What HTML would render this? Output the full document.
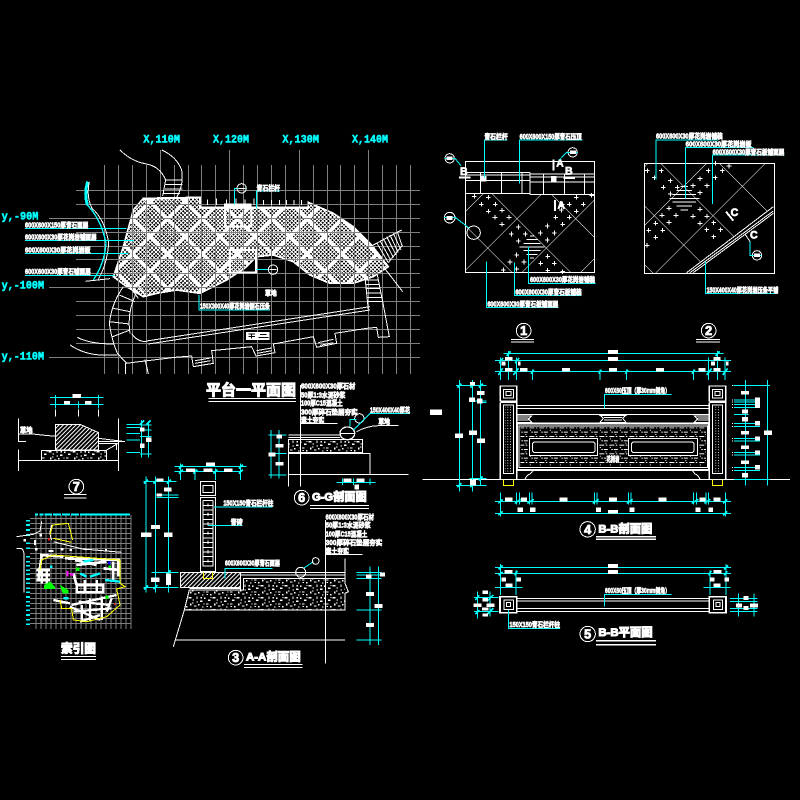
<!DOCTYPE html>
<html><head><meta charset="utf-8"><title>平台一平面图</title>
<style>
html,body{margin:0;padding:0;background:#000;width:800px;height:800px;overflow:hidden}
svg{display:block;shape-rendering:crispEdges}
.w{fill:none;stroke:#fff;stroke-width:3}
.c{fill:none;stroke:#0ff;stroke-width:3}
.g{fill:none;stroke:#808080;stroke-width:3}
.y{fill:none;stroke:#ff0;stroke-width:3}
text{font-family:"Liberation Sans","Noto Sans CJK SC",sans-serif;font-weight:700;fill:#fff;stroke:#fff;stroke-width:2}
.l{font-size:21px}
.a{font-family:"Liberation Mono",monospace;font-size:32px;fill:#0ff;stroke:#0ff;stroke-width:1.5}
.tt{font-size:45px;stroke-width:3}
.n{font-size:38px;stroke-width:2.5;text-anchor:middle}
.h{font-size:34px;stroke-width:3}
</style></head><body>
<svg width="800" height="800" viewBox="0 0 800 800" xmlns="http://www.w3.org/2000/svg">
<defs>
<pattern id="d1" patternUnits="userSpaceOnUse" width="124.5" height="124.5" patternTransform="translate(173 353) rotate(45)">
<path d="M0 0V124.5M0 0H124.5" stroke="#fff" stroke-width="3" fill="none"/>
</pattern>
<pattern id="d2" patternUnits="userSpaceOnUse" width="124.5" height="124.5" patternTransform="translate(761 344) rotate(45)">
<path d="M0 0V124.5M0 0H124.5" stroke="#fff" stroke-width="3" fill="none"/>
</pattern>
<pattern id="ha" patternUnits="userSpaceOnUse" width="9" height="9" patternTransform="rotate(-45)">
<path d="M0 1.5H9" stroke="#fff" stroke-width="3"/>
</pattern>
<pattern id="gr" patternUnits="userSpaceOnUse" width="72" height="36">
<g fill="#fff"><rect x="2" y="3" width="8" height="4"/><rect x="14" y="10" width="4" height="4"/><rect x="25" y="2" width="4" height="7"/><rect x="36" y="14" width="8" height="4"/><rect x="48" y="5" width="4" height="4"/><rect x="60" y="11" width="8" height="4"/><rect x="6" y="22" width="4" height="7"/><rect x="18" y="28" width="8" height="4"/><rect x="30" y="24" width="4" height="4"/><rect x="42" y="31" width="4" height="4"/><rect x="54" y="22" width="8" height="4"/><rect x="66" y="30" width="4" height="4"/><rect x="68" y="3" width="3" height="3"/><rect x="38" y="3" width="4" height="4"/><rect x="12" y="19" width="4" height="4"/><rect x="26" y="16" width="4" height="4"/><rect x="46" y="22" width="4" height="3"/><rect x="56" y="30" width="4" height="3"/></g>
</pattern>
<pattern id="pn" patternUnits="userSpaceOnUse" width="30" height="26" x="268" y="262">
<g fill="#fff"><rect x="0" y="0" width="15" height="3"/><rect x="20" y="0" width="4" height="3"/><rect x="6" y="13" width="4" height="3"/><rect x="14" y="13" width="11" height="3"/><rect x="2" y="7" width="3" height="3"/><rect x="18" y="20" width="3" height="3"/></g>
</pattern>
<pattern id="dt" patternUnits="userSpaceOnUse" width="8" height="8">
<rect width="3" height="3" fill="#fff"/>
</pattern>
<clipPath id="cd1"><rect x="106" y="192" width="388" height="236"/></clipPath>
<clipPath id="cpl"><path d="M430 235L600 232V265H925V247L1000 280L1060 320L1115 375L1165 440L1120 470L1060 490L990 490L930 465L880 425L820 405L770 410L740 440L680 480L600 520L530 510L470 520L430 530L380 500L340 470L370 380L400 270Z"/></clipPath>
</defs>
<rect width="800" height="800" fill="#000"/>

<!-- PLAN -->
<g transform="translate(0 120) scale(.33333)">
<g clip-path="url(#cpl)">
<g transform="translate(503 297) rotate(45)" fill="none" stroke="#fff">
<path d="M-1036 0H1036" stroke-width="2072" stroke-dasharray="3 5.222" stroke-dashoffset="-2.5"/>
<path d="M0 -1036V1036" stroke-width="2072" stroke-dasharray="3 5.222" stroke-dashoffset="-2.5"/>
<path d="M-1036 0H1036" stroke-width="2072" stroke-dasharray="12 62" stroke-dashoffset="6"/>
<path d="M0 -1036V1036" stroke-width="2072" stroke-dasharray="12 62" stroke-dashoffset="6"/>
</g>
</g>
<path d="M430 235L600 232V265H925V247L1000 280L1060 320L1115 375L1165 440L1120 470L1060 490L990 490L930 465L880 425L820 405L770 410L740 440L680 480L600 520L530 510L470 520L430 530L380 500L340 470L370 380L400 270Z" fill="none" stroke="#fff" stroke-width="5"/>
<path class="g" d="M313 135V762M355 135V762M397 135V762M439 135V762M481 90V762M523 135V762M565 135V762M605 135V762M646 135V762M688 90V762M730 135V762M772 135V762M814 135V762M856 135V762M898 90V762M940 135V762M982 135V762M1022 135V762M1063 135V762M1105 90V762M1147 135V762M1189 135V762M1231 135V762"/>
<path class="g" d="M228 211H1260M228 253H1260M147 295H1260M228 337H1260M228 379H1260M228 418H1260M228 460H1260M147 502H1260M228 544H1260M228 586H1260M228 628H1260M228 670H1260M147 712H1260"/>
<text class="a" x="430" y="68" textLength="110" lengthAdjust="spacingAndGlyphs">X,110M</text>
<text class="a" x="639" y="68" textLength="108" lengthAdjust="spacingAndGlyphs">X,120M</text>
<text class="a" x="847" y="68" textLength="110" lengthAdjust="spacingAndGlyphs">X,130M</text>
<text class="a" x="1056" y="68" textLength="108" lengthAdjust="spacingAndGlyphs">X,140M</text>
<text class="a" x="5" y="298" textLength="110" lengthAdjust="spacingAndGlyphs">y,-90M</text>
<text class="a" x="5" y="505" textLength="127" lengthAdjust="spacingAndGlyphs">y,-100M</text>
<text class="a" x="5" y="718" textLength="127" lengthAdjust="spacingAndGlyphs">y,-110M</text>

<path class="w" style="stroke-width:6" d="M600 262H925M430 237L600 232"/>
<rect x="672" y="250" width="83" height="14" fill="#fff"/>
<path class="w" d="M622 238V255M650 236V255M680 238V250M708 236V250M735 238V250M762 236V255M790 240V255M815 240V255M838 240V255M860 240V255M882 240V255M905 240V255"/>
<path class="w" style="stroke-width:6" d="M675 265V320H755V265M690 390H768V457H690Z"/>
<path d="M263 185Q252 220 262 255" fill="none" stroke="#0ff" stroke-width="9"/>
<path d="M262 255Q305 300 318 370Q314 430 280 480" fill="none" stroke="#0ff" stroke-width="4"/>
<path class="w" d="M268 185Q258 230 276 265Q316 300 326 370Q322 430 295 478M256 484L330 476"/>
<path class="w" d="M360 90Q395 125 440 132Q480 140 497 180L488 228M485 90Q530 110 545 150Q552 195 530 232M497 180H547M497 193H547M495 207H547M490 220H540M487 232H532"/>
<path class="w" d="M1120 375L1205 330M1165 428L1208 375M1150 440L1208 515M1130 368L1165 428M1140 362L1172 420M1150 356L1180 412M1160 350L1188 405M1170 345L1195 398M1180 340L1203 390M1192 335L1207 380"/>
<path class="w" d="M1095 470L1105 570M1132 465L1148 545M1097 480H1135M1097 493H1138M1098 506H1140M1100 519H1142M1102 532H1145M1103 545H1148"/>
<path class="w" d="M1148 545L1168 650L1135 652L1130 622L1100 625L1005 640L1010 670L950 682L940 650L820 672L825 698L768 708L755 680L635 692L640 730L580 740L575 708L525 712L377 730L377 762M435 718L445 762"/>
<path class="w" d="M955 668L1000 658M960 676L1000 668M770 692L815 684M772 700L815 692M585 722L632 714M585 730L632 722"/>
<path class="w" d="M440 663L1110 560M445 672L1110 570M395 640Q410 665 440 665"/>
<path class="w" d="M370 500Q335 550 328 610Q335 660 352 700L380 730M408 520Q380 580 390 640M358 525L405 545M340 565L390 575M328 605L388 612M338 650L390 630M385 495L415 535M410 490L440 530"/>
<path class="w" d="M210 675Q250 702 300 705H352M232 652Q270 672 340 672"/>
<path class="c" d="M75 325H380M75 361H402M75 400H385M75 466H345"/>
<text class="l" x="75" y="323" textLength="190" lengthAdjust="spacingAndGlyphs">600X600X150厚青石面层</text>
<text class="l" x="75" y="358" textLength="215" lengthAdjust="spacingAndGlyphs">600X600X30厚花岗岩铺面层</text>
<text class="l" x="75" y="397" textLength="197" lengthAdjust="spacingAndGlyphs">600X600X30厚花岗岩板</text>
<text class="l" x="75" y="462" textLength="197" lengthAdjust="spacingAndGlyphs">600X600X30厚青石铺面层</text>
<path class="c" d="M703 253V205H738M769 265V213H840M770 449H805M597 525V570H810"/>
<circle class="w" cx="725" cy="205" r="14"/><circle class="w" cx="819" cy="449" r="14"/>
<path class="w" d="M715 205H735M809 449H830"/>
<text class="l" x="770" y="211" textLength="70" lengthAdjust="spacingAndGlyphs">青石栏杆</text>
<text class="l" x="795" y="527" textLength="35" lengthAdjust="spacingAndGlyphs">草地</text>
<text class="l" x="600" y="566" textLength="210" lengthAdjust="spacingAndGlyphs">150X300X40厚花岗岩侧石压条</text>
<rect x="738" y="636" width="70" height="24" fill="#fff"/>
<path d="M745 642H765M745 650H765M755 642V656M780 644H800M775 652H805" stroke="#000" stroke-width="3" fill="none"/>
<text class="tt" x="618" y="825" textLength="270" lengthAdjust="spacingAndGlyphs">平台一平面图</text>
<path class="w" d="M625 835H888M625 845H888"/>
</g>

<!-- DETAILS 1 2 -->
<g transform="translate(430 130) scale(.33333)">
<rect class="w" x="106" y="94" width="388" height="334"/>
<rect class="w" x="643" y="100" width="390" height="330"/>
<rect x="106" y="192" width="388" height="236" fill="url(#d1)" clip-path="url(#cd1)"/>
<path d="M643 100H1033V228L770 430H643Z" fill="url(#d2)"/>
<path class="w" d="M106 128H300M106 135H300M106 152H300M106 190H300M300 132H494M300 141H494M300 156H494M300 194H494M300 128V194M152 128V190M214 128V190M276 128V190M340 132V194M403 132V194M463 132V194"/>
<rect x="153" y="138" width="17" height="17" fill="#fff"/><rect x="363" y="138" width="17" height="17" fill="#fff"/>
<path class="w" style="stroke-width:6" d="M87 143H122M400 144H435M371 88V122M375 210V243M888 245L910 272"/>
<text x="90" y="135" style="font-size:32px">B</text><text x="405" y="133" style="font-size:32px">B</text>
<text x="379" y="110" style="font-size:30px">A</text><text x="383" y="236" style="font-size:30px">A</text>
<text x="902" y="258" style="font-size:32px">C</text><text x="960" y="325" style="font-size:32px">C</text>
<path class="w" d="M945 312L960 335"/>
<path class="w" d="M770 428L1030 230M780 428L1030 243M790 428L1030 250"/>
<path class="w" d="M300 318H312M290 329H322M280 340H332M268 351H344M280 362H332M290 373H322M300 384H312M752 170H774M740 182H786M728 194H798M718 205H808M728 216H798M740 228H786M752 240H774"/>
<path class="w" d="M133 199m-7 0h14m-7-7v14M175 202m-7 0h14m-7-7v14M154 223m-7 0h14m-7-7v14M196 223m-7 0h14m-7-7v14M175 244m-7 0h14m-7-7v14M216 241m-7 0h14m-7-7v14M195 262m-7 0h14m-7-7v14M237 262m-7 0h14m-7-7v14M216 283m-7 0h14m-7-7v14M265 291m-7 0h14m-7-7v14M244 312m-7 0h14m-7-7v14M286 312m-7 0h14m-7-7v14M265 333m-7 0h14m-7-7v14M418 223m-7 0h14m-7-7v14M460 223m-7 0h14m-7-7v14M439 202m-7 0h14m-7-7v14M485 196m-7 0h14m-7-7v14M439 244m-7 0h14m-7-7v14M397 223m-7 0h14m-7-7v14M418 262m-7 0h14m-7-7v14M377 262m-7 0h14m-7-7v14M398 283m-7 0h14m-7-7v14M352 288m-7 0h14m-7-7v14M373 309m-7 0h14m-7-7v14M331 309m-7 0h14m-7-7v14M352 330m-7 0h14m-7-7v14M260 375m-7 0h14m-7-7v14M240 396m-7 0h14m-7-7v14M282 396m-7 0h14m-7-7v14M260 417m-7 0h14m-7-7v14M220 420m-7 0h14m-7-7v14M353 379m-7 0h14m-7-7v14M373 400m-7 0h14m-7-7v14M332 400m-7 0h14m-7-7v14M353 421m-7 0h14m-7-7v14M398 425m-7 0h14m-7-7v14M394 240m-7 0h14m-7-7v14"/>
<path class="w" d="M652 122m-7 0h14m-7-7v14M694 122m-7 0h14m-7-7v14M673 143m-7 0h14m-7-7v14M721 152m-7 0h14m-7-7v14M700 172m-7 0h14m-7-7v14M742 172m-7 0h14m-7-7v14M721 192m-7 0h14m-7-7v14M835 122m-7 0h14m-7-7v14M877 122m-7 0h14m-7-7v14M856 143m-7 0h14m-7-7v14M897 108m-7 0h14m-7-7v14M856 100m-7 0h14m-7-7v14M810 146m-7 0h14m-7-7v14M789 167m-7 0h14m-7-7v14M831 167m-7 0h14m-7-7v14M810 188m-7 0h14m-7-7v14M717 235m-7 0h14m-7-7v14M696 256m-7 0h14m-7-7v14M738 256m-7 0h14m-7-7v14M717 277m-7 0h14m-7-7v14M677 280m-7 0h14m-7-7v14M656 301m-7 0h14m-7-7v14M698 301m-7 0h14m-7-7v14M677 322m-7 0h14m-7-7v14M651 346m-7 0h14m-7-7v14M810 238m-7 0h14m-7-7v14M789 259m-7 0h14m-7-7v14M831 259m-7 0h14m-7-7v14M810 280m-7 0h14m-7-7v14M851 278m-7 0h14m-7-7v14M830 299m-7 0h14m-7-7v14M872 299m-7 0h14m-7-7v14M851 320m-7 0h14m-7-7v14"/>
<circle class="w" cx="59" cy="85" r="14"/><circle class="w" cx="428" cy="67" r="14"/><circle class="w" cx="59" cy="263" r="16"/><circle class="w" cx="131" cy="308" r="20"/><circle class="w" cx="981" cy="376" r="14"/>
<path class="c" d="M43 85H75L93 107M442 67H410L388 90M42 263H77L118 295M960 335V377H995M163 143V30H233M269 160V30H457M295 350V460H497M253 397V496H455M169 395V532H385M678 148V30H865M767 205V52H970M848 222V75H1063M826 395V490H1040"/>
<path fill="#fff" d="M50 80h18v10H50zM420 62h18v10h-18zM50 258h18v12H50zM972 371h18v10h-18z"/>
<text class="l" x="163" y="27" textLength="70" lengthAdjust="spacingAndGlyphs">青石栏杆</text>
<text class="l" x="269" y="27" textLength="186" lengthAdjust="spacingAndGlyphs">600X600X150厚青石压顶</text>
<text class="l" x="300" y="456" textLength="195" lengthAdjust="spacingAndGlyphs">600X600X30厚花岗岩铺装</text>
<text class="l" x="256" y="493" textLength="199" lengthAdjust="spacingAndGlyphs">600X600X30厚青石板铺装</text>
<text class="l" x="172" y="530" textLength="213" lengthAdjust="spacingAndGlyphs">600X600X30厚青石板铺面层</text>
<text class="l" x="678" y="26" textLength="200" lengthAdjust="spacingAndGlyphs">600X600X30厚花岗岩铺装</text>
<text class="l" x="767" y="49" textLength="198" lengthAdjust="spacingAndGlyphs">600X600X30厚花岗岩板</text>
<text class="l" x="848" y="73" textLength="215" lengthAdjust="spacingAndGlyphs">600X600X30厚青石板铺面层</text>
<text class="l" x="830" y="487" textLength="215" lengthAdjust="spacingAndGlyphs">150X400X40厚花岗岩压条平铺</text>
<circle class="w" cx="281" cy="602" r="22"/><text class="n" x="281" y="615">1</text>
<circle class="w" cx="836" cy="602" r="22"/><text class="n" x="836" y="615">2</text>
<path class="w" d="M243 628H312M243 636H312M798 628H870M798 636H870"/>
</g>

<!-- ELEVATION 4 -->
<g transform="translate(430 340) scale(.33333)">
<path class="w" d="M-22 418H1080"/>
<path class="w" style="stroke-width:4" d="M211 138H260V183H211ZM211 187H260V418M211 187V418M838 138H887V183H838ZM838 187H887V418M838 187V418"/>
<path class="w" d="M220 148H250V174H220ZM228 155H243V167H228ZM220 195H250V400H220ZM847 148H877V174H847ZM855 155H870V167H855ZM847 195H877V400H847Z"/>
<rect x="225" y="198" width="21" height="198" fill="url(#dt)"/><rect x="851" y="198" width="21" height="198" fill="url(#dt)"/>
<path class="y" d="M220 418V436H251V418M847 418V436H878V418"/>
<path class="w" d="M260 196H838M260 205H838M260 223H838M260 249H838M262 392H836"/>
<path class="w" d="M260 228H305L295 237L305 247H260M260 234H295M260 240H295M510 226H588L578 235L588 247H510L520 235ZM522 232H576M522 240H576M838 228H793L803 237L793 247H838M838 234H803M838 240H803"/>
<rect class="w" x="262" y="252" width="574" height="136"/><rect class="w" x="267" y="258" width="565" height="124"/>
<rect x="271" y="262" width="557" height="116" fill="url(#pn)"/>
<path d="M298 295H502V347H298ZM595 295H802V347H595Z" fill="#000" stroke="#fff" stroke-width="3"/>
<path class="w" d="M312 306H490L495 311V333L490 338H312L307 333V311ZM609 306H787L792 311V333L787 338H609L604 333V311Z"/>
<rect x="530" y="347" width="38" height="20" fill="#000"/>
<text class="l" x="530" y="365" textLength="38" lengthAdjust="spacingAndGlyphs">花岗岩</text>
<path class="w" d="M285 418Q290 405 300 402L310 393M810 418Q805 405 795 402L788 393"/>
<path class="c" d="M523 205V163H725"/>
<text class="l" x="525" y="159" textLength="195" lengthAdjust="spacingAndGlyphs">600X60压顶（厚30mm倒角）</text>
<path class="c" d="M220 41H880M195 62H903M195 95H903M235 33V120M862 33V120M212 52V120M260 52V120M836 52V120M885 52V120M307 88V120M510 88V120M590 88V120M790 88V120"/>
<path class="c" style="stroke-width:5" d="M205 105L218 85M250 105L266 85M830 105L845 85M878 105L893 85M230 48L242 34M857 48L869 34M207 70L219 54M255 70L267 54M303 101L311 89M506 101L514 89M586 101L594 89M786 101L794 89"/>
<rect x="534" y="30" width="30" height="12" fill="#fff"/><rect x="534" y="51" width="30" height="12" fill="#fff"/>
<rect x="225" y="51" width="22" height="10" fill="#fff"/><rect x="396" y="84" width="24" height="11" fill="#fff"/><rect x="537" y="84" width="24" height="11" fill="#fff"/><rect x="678" y="84" width="24" height="11" fill="#fff"/><rect x="225" y="84" width="22" height="11" fill="#fff"/><rect x="270" y="84" width="22" height="11" fill="#fff"/><rect x="805" y="84" width="22" height="11" fill="#fff"/><rect x="850" y="84" width="22" height="11" fill="#fff"/><rect x="850" y="51" width="22" height="11" fill="#fff"/><rect x="215" y="65" width="12" height="11" fill="#fff"/><rect x="264" y="65" width="8" height="11" fill="#fff"/><rect x="843" y="65" width="12" height="11" fill="#fff"/><rect x="888" y="65" width="8" height="11" fill="#fff"/>
<path class="c" d="M88 120V455M127 120V455M152 120V435M78 137H170M118 183H170M145 188H170M118 415H170M78 436H170"/>
<path class="c" style="stroke-width:5" d="M82 143L94 131M121 143L133 131M146 143L158 131M82 442L94 430M121 442L133 430M146 421L158 409"/>
<rect x="120" y="126" width="15" height="11" fill="#fff"/><rect x="141" y="153" width="23" height="12" fill="#fff"/><rect x="117" y="172" width="18" height="14" fill="#fff"/><rect x="141" y="176" width="17" height="14" fill="#fff"/><rect x="75" y="280" width="24" height="14" fill="#fff"/><rect x="117" y="271" width="24" height="14" fill="#fff"/><rect x="141" y="296" width="24" height="13" fill="#fff"/><rect x="120" y="420" width="18" height="16" fill="#fff"/><rect x="0" y="208" width="36" height="17" fill="#fff"/>
<path class="c" d="M946 120V437M1012 120V437M910 137H1020M912 180H990M912 186H990M912 193H990M912 203H990M912 223H955M912 250H990M912 259H990M912 295H990M912 303H990M912 337H990M912 345H990M912 383H990M912 391H990M912 418H1020"/>
<path class="w" d="M906 137h3M906 180h3M906 186h3M906 193h3M906 203h3M906 250h3M906 259h3M906 295h3M906 303h3M906 337h3M906 345h3M906 383h3M906 391h3"/>
<rect x="933" y="153" width="24" height="11" fill="#fff"/><rect x="975" y="172" width="15" height="32" fill="#fff"/><rect x="936" y="208" width="18" height="13" fill="#fff"/><rect x="936" y="231" width="18" height="13" fill="#fff"/><rect x="975" y="243" width="15" height="13" fill="#fff"/><rect x="933" y="273" width="24" height="11" fill="#fff"/><rect x="975" y="289" width="15" height="13" fill="#fff"/><rect x="933" y="316" width="24" height="11" fill="#fff"/><rect x="975" y="331" width="15" height="13" fill="#fff"/><rect x="933" y="361" width="24" height="11" fill="#fff"/><rect x="975" y="375" width="15" height="14" fill="#fff"/><rect x="936" y="399" width="18" height="13" fill="#fff"/><rect x="1002" y="271" width="24" height="14" fill="#fff"/>
<path class="c" d="M195 484H903M195 520H903M212 458V530M260 458V494M268 458V494M298 458V494M306 458V494M493 458V494M501 458V494M595 458V494M603 458V494M790 458V494M800 458V494M828 458V494M836 458V494M886 458V530"/>
<path class="c" style="stroke-width:5" d="M205 490L218 478M254 490L272 478M292 490L312 478M488 490L506 478M590 490L608 478M785 490L805 478M823 490L841 478M880 490L892 478M205 526L218 514M880 526L892 514"/>
<rect x="225" y="472" width="22" height="12" fill="#fff"/><rect x="273" y="472" width="18" height="12" fill="#fff"/><rect x="388" y="472" width="24" height="12" fill="#fff"/><rect x="537" y="472" width="24" height="12" fill="#fff"/><rect x="685" y="472" width="25" height="12" fill="#fff"/><rect x="808" y="472" width="18" height="12" fill="#fff"/><rect x="850" y="472" width="22" height="12" fill="#fff"/><rect x="262" y="502" width="17" height="14" fill="#fff"/><rect x="300" y="502" width="17" height="14" fill="#fff"/><rect x="498" y="502" width="15" height="14" fill="#fff"/><rect x="598" y="502" width="16" height="14" fill="#fff"/><rect x="796" y="502" width="16" height="14" fill="#fff"/><rect x="835" y="502" width="14" height="14" fill="#fff"/><rect x="534" y="510" width="30" height="11" fill="#fff"/>
<circle class="w" cx="473" cy="568" r="23"/><text class="n" x="473" y="582">4</text>
<text class="h" x="505" y="577" textLength="162" lengthAdjust="spacingAndGlyphs">B-B剖面图</text>
<path class="w" style="stroke-width:4" d="M498 590H678M498 598H678"/>
</g>

<!-- PLAN 5 -->
<g transform="translate(460 550) scale(.33333)">
<path class="w" style="stroke-width:5" d="M120 140H170V188H120ZM748 140H798V188H748Z"/>
<path class="w" d="M132 150H160V178H132ZM760 150H788V178H760ZM140 158H152V170H140ZM768 158H780V170H768ZM170 145H748M170 153H748M170 176H748M170 184H748"/>
<path class="c" d="M105 52H813M105 70H813M122 42V135M798 42V135M168 62V135M750 62V135M105 112H188M730 112H812"/>
<path class="c" d="M52 125V205M90 125V200M42 143H115M42 185H115M835 130V200M882 130V200M810 146H892M810 154H892M810 176H892M810 184H892"/>
<path class="c" style="stroke-width:5" d="M116 58L128 46M792 58L804 46M116 76L128 66M746 76L754 62M164 76L172 62M792 76L802 64M80 155L100 135M80 195L100 175M46 150L58 136M46 192L58 180"/>
<rect x="444" y="42" width="30" height="12" fill="#fff"/><rect x="444" y="60" width="30" height="12" fill="#fff"/><rect x="134" y="60" width="24" height="10" fill="#fff"/><rect x="760" y="60" width="24" height="10" fill="#fff"/><rect x="124" y="82" width="14" height="12" fill="#fff"/><rect x="170" y="82" width="13" height="12" fill="#fff"/><rect x="136" y="100" width="22" height="11" fill="#fff"/><rect x="750" y="82" width="14" height="12" fill="#fff"/><rect x="793" y="82" width="14" height="12" fill="#fff"/><rect x="760" y="100" width="22" height="11" fill="#fff"/><rect x="68" y="122" width="16" height="10" fill="#fff"/><rect x="68" y="144" width="16" height="10" fill="#fff"/><rect x="40" y="160" width="24" height="11" fill="#fff"/><rect x="80" y="160" width="24" height="11" fill="#fff"/><rect x="66" y="172" width="20" height="10" fill="#fff"/><rect x="68" y="190" width="16" height="10" fill="#fff"/><rect x="850" y="138" width="16" height="12" fill="#fff"/><rect x="828" y="160" width="18" height="12" fill="#fff"/><rect x="870" y="160" width="24" height="12" fill="#fff"/><rect x="850" y="168" width="16" height="12" fill="#fff"/>
<path class="c" d="M433 170V133H635M145 180V235H300"/>
<text class="l" x="435" y="129" textLength="195" lengthAdjust="spacingAndGlyphs">600X60压顶（厚30mm倒角）</text>
<text class="l" x="148" y="231" textLength="152" lengthAdjust="spacingAndGlyphs">150X150青石栏杆柱</text>
<circle class="w" cx="383" cy="252" r="23"/><text class="n" x="383" y="265">5</text>
<text class="h" x="415" y="258" textLength="163" lengthAdjust="spacingAndGlyphs">B-B平面图</text>
<path class="w" style="stroke-width:4" d="M408 272H588M408 284H588"/>
</g>

<!-- SECTIONS 3 6 -->
<g transform="translate(140 380) scale(.33333)">
<text class="l" x="483" y="25" textLength="163" lengthAdjust="spacingAndGlyphs">600X600X30厚石材</text>
<text class="l" x="483" y="52" textLength="133" lengthAdjust="spacingAndGlyphs">50厚1:3水泥砂浆</text>
<text class="l" x="483" y="77" textLength="125" lengthAdjust="spacingAndGlyphs">100厚C15混凝土</text>
<text class="l" x="483" y="103" textLength="170" lengthAdjust="spacingAndGlyphs">300厚碎石垫层夯实</text>
<text class="l" x="483" y="128" textLength="70" lengthAdjust="spacingAndGlyphs">素土夯实</text>
<path class="w" d="M481 15V320M483 131H592"/>
<path class="w" d="M445 165H640M445 172H600M445 190V320M445 220H690V285M445 283H805"/>
<rect class="w" x="445" y="178" width="223" height="40"/>
<rect x="447" y="180" width="219" height="36" fill="url(#gr)"/>
<ellipse cx="622" cy="160" rx="22" ry="19" fill="#000" stroke="#fff" stroke-width="4"/>
<circle class="w" cx="658" cy="115" r="14"/>
<path class="w" d="M600 160H644M650 155Q680 138 715 137H775"/>
<path class="c" d="M630 140V118H650M640 150L690 100H810"/>
<text class="l" x="690" y="97" textLength="120" lengthAdjust="spacingAndGlyphs">150X400X40厚花</text>
<text class="l" x="715" y="132" textLength="35" lengthAdjust="spacingAndGlyphs">草地</text>
<path class="c" d="M393 150V295M417 150V295M385 165H440M385 220H440M385 285H440M590 307H707M607 295V315M640 295V315M690 295V315"/>
<rect x="410" y="164" width="16" height="11" fill="#fff"/><rect x="406" y="192" width="24" height="11" fill="#fff"/><rect x="385" y="218" width="22" height="12" fill="#fff"/><rect x="406" y="246" width="24" height="11" fill="#fff"/><rect x="610" y="296" width="24" height="10" fill="#fff"/><rect x="650" y="296" width="24" height="10" fill="#fff"/><rect x="643" y="314" width="14" height="15" fill="#fff"/>
<circle class="w" cx="485" cy="353" r="22"/><text class="n" x="485" y="366">6</text>
<text class="h" x="516" y="362" textLength="164" lengthAdjust="spacingAndGlyphs">G-G剖面图</text>
<path class="w" d="M510 377H687M510 385H687"/>

<path class="w" d="M181 305H227V347H181ZM189 316H219V337H189ZM181 352H227V575H181ZM189 362V560M219 362V560M189 362H219M189 376H219M189 390H219M189 404H219M189 418H219M189 432H219M189 446H219M189 460H219M189 474H219M189 488H219M189 502H219M189 516H219M189 530H219M189 544H219M189 558H219M204 370V380M204 398V408M204 426V436M204 454V464M204 482V492M204 510V520M204 538V548"/>
<rect x="121" y="577" width="181" height="45" fill="url(#ha)" stroke="#fff" stroke-width="3"/>
<path class="y" d="M190 577V596H218V577"/>
<path class="w" d="M302 577H615M302 585H615M310 595H615V610L625 635L615 640V690H133L148 630H310ZM302 622V630M148 625H302M133 690L100 800M105 780H615M556 420V850M615 535V610"/>
<path d="M312 597H613V688H136L150 632H312Z" fill="url(#gr)"/>
<path class="c" d="M103 260H320M103 275H305M122 250V300M165 265V300M226 265V300M302 250V300M18 290V638M46 290V638M85 290V638M10 305H110M50 345H115M50 353H115M35 577H115M10 622H115"/>
<path class="c" d="M222 381H398M205 436H308M255 595V565H398M490 565L520 545"/>
<path class="c" d="M690 560V795M715 560V795M650 577H725M650 585H725M650 595H725M650 690H725M650 780H725"/>
<path class="c" style="stroke-width:5" d="M116 266L128 254M296 266L308 254M116 281L128 269M160 281L172 269M220 281L232 269M296 281L308 269M12 311L24 299M40 311L52 299M80 311L92 299M12 628L24 616M40 628L52 616M80 583L92 571M0 133L12 121M20 133L32 121"/>
<path class="c" d="M0 135H35M0 150H35M0 170H35M0 222H35M5 120V232M25 125V232"/>
<rect x="0" y="142" width="14" height="12" fill="#fff"/><rect x="18" y="172" width="17" height="14" fill="#fff"/><rect x="0" y="190" width="14" height="14" fill="#fff"/>
<rect x="198" y="247" width="27" height="11" fill="#fff"/><rect x="138" y="265" width="27" height="11" fill="#fff"/><rect x="190" y="265" width="27" height="11" fill="#fff"/><rect x="252" y="265" width="26" height="11" fill="#fff"/><rect x="50" y="295" width="20" height="10" fill="#fff"/><rect x="72" y="323" width="23" height="12" fill="#fff"/><rect x="50" y="340" width="16" height="10" fill="#fff"/><rect x="3" y="458" width="32" height="13" fill="#fff"/><rect x="33" y="435" width="27" height="12" fill="#fff"/><rect x="72" y="458" width="26" height="13" fill="#fff"/><rect x="33" y="593" width="25" height="13" fill="#fff"/><rect x="78" y="580" width="15" height="35" fill="#fff"/><rect x="720" y="578" width="15" height="12" fill="#fff"/><rect x="678" y="584" width="17" height="12" fill="#fff"/><rect x="678" y="636" width="24" height="12" fill="#fff"/><rect x="703" y="672" width="25" height="12" fill="#fff"/><rect x="678" y="729" width="24" height="12" fill="#fff"/>
<text class="l" x="250" y="377" textLength="150" lengthAdjust="spacingAndGlyphs">150X150青石栏杆柱</text>
<text class="l" x="272" y="434" textLength="36" lengthAdjust="spacingAndGlyphs">青砖</text>
<text class="l" x="255" y="556" textLength="165" lengthAdjust="spacingAndGlyphs">600X600X30厚青石面层</text>
<text class="l" x="557" y="418" textLength="145" lengthAdjust="spacingAndGlyphs">600X600X30厚石材</text>
<text class="l" x="557" y="443" textLength="135" lengthAdjust="spacingAndGlyphs">50厚1:3水泥砂浆</text>
<text class="l" x="557" y="470" textLength="125" lengthAdjust="spacingAndGlyphs">100厚C15混凝土</text>
<text class="l" x="557" y="495" textLength="170" lengthAdjust="spacingAndGlyphs">300厚碎石垫层夯实</text>
<text class="l" x="557" y="520" textLength="70" lengthAdjust="spacingAndGlyphs">素土夯实</text>
<path class="w" d="M557 523H668"/>
<circle class="w" cx="482" cy="577" r="15"/><circle class="w" cx="527" cy="543" r="10"/>
<circle cx="287" cy="833" r="22" class="w"/><text class="n" x="287" y="846">3</text>
<text class="h" x="318" y="842" textLength="164" lengthAdjust="spacingAndGlyphs">A-A剖面图</text>
<path class="w" d="M312 853H488M312 863H488"/>
</g>

<!-- SECTION 7 -->
<g transform="translate(0 390) scale(.33333)">
<path class="c" d="M150 22H310M150 43H310M167 15V55M235 35V55M295 15V55M380 103H420M380 112H420M380 131H420M380 150H420M380 187H420"/>
<path class="w" d="M167 58V80M235 58V80M295 58V80"/>
<rect x="218" y="12" width="25" height="12" fill="#fff"/><rect x="192" y="33" width="18" height="11" fill="#fff"/><rect x="255" y="33" width="20" height="11" fill="#fff"/>
<path d="M166 103H240L296 128V180H166Z" fill="url(#ha)" stroke="#fff" stroke-width="3"/>
<path class="w" d="M55 85V155H78M55 178V243M55 212H124M320 212H355M355 85V243M55 132H97L155 138H166M296 145L375 155M296 155H365M296 160H350V180M320 180L355 160"/>
<rect x="124" y="181" width="196" height="31" class="w"/>
<rect x="126" y="183" width="192" height="27" fill="url(#gr)"/>
<text class="l" x="60" y="128" textLength="38" lengthAdjust="spacingAndGlyphs">草地</text>
<circle class="w" cx="229" cy="290" r="22"/><text class="n" x="229" y="303">7</text>
<path class="w" d="M192 314H260M192 324H260"/>
<text x="183" y="787" class="h" style="font-size:35px" textLength="105" lengthAdjust="spacingAndGlyphs">索引图</text>
<path class="w" d="M183 800H288M183 808H288"/>
</g>

<!-- INDEX MAP -->
<g transform="translate(20 505) scale(.33333)">
<path class="g" d="M48 30V372M63 30V372M78 30V372M93 30V372M108 30V372M123 30V372M138 30V372M153 30V372M168 30V372M183 30V372M198 30V372M213 30V372M228 30V372M243 30V372M258 30V372M273 30V372M288 30V372M303 30V372M318 30V372M333 30V372"/>
<path class="g" d="M30 40H335M30 55H335M30 70H335M30 85H335M30 100H335M30 115H335M30 130H335M30 145H335M30 160H335M30 175H335M30 190H335M30 205H335M30 220H335M30 235H335M30 250H335M30 265H335M30 280H335M30 295H335M30 310H335M30 325H335M30 340H335M30 355H335"/>
<path class="c" style="stroke-width:6" d="M45 29H54M58 29H70M73 29H96M99 29H123M126 29H150M153 29H177M180 29H330"/>
<path class="c" style="stroke-width:5" d="M18 47H30M18 60H30M18 75H30M18 90H30M18 115H30M18 130H30M18 155H30M18 170H30M18 182H30M18 196H30M18 208H30M18 222H30M18 235H30M18 250H30M18 262H30M18 276H30M18 290H30M18 302H30M18 316H30M18 330H30M18 344H30M18 358H30"/>
<path class="w" d="M-10 95L40 88L60 78L65 50M95 60Q85 85 95 105M-10 130H5Q15 140 12 165V262M100 110L200 135M190 132L305 142"/>
<path class="w" style="stroke-width:7" d="M10 106h8M45 105V120M45 133h8M62 85V95M122 133h8M148 135h8M255 135h6M85 138H100"/>
<path class="w" style="stroke-width:8" d="M60 150L130 155M65 152L55 225M50 195H90M50 210H90M50 225H90M65 195V235M80 195V235M135 160L300 165M165 165L230 180M170 180L260 170M160 205L170 240M170 240H250V262H170ZM230 225V265M195 225V262M280 170V225M295 165V215M250 190L300 195"/>
<path class="w" style="stroke-width:7" d="M100 285L150 295M155 300L290 270M150 305L240 345M175 290L270 300M180 350L240 330M160 320L275 310M210 280V350M245 275V345M275 280L260 320M185 300V345"/>
<path class="y" d="M90 90L98 60L145 55L158 105M100 100L155 112M60 195L65 165L100 150L300 165V235L315 245L290 252L300 300L260 335L200 350L160 345L155 310L125 310L120 285"/>
<path fill="#0f0" d="M72 240L90 230L105 245V252H72ZM120 240L145 255V265H128ZM168 188h10v10h-10zM256 272h10v10h-10zM266 182h7v7h-7z"/>
<path class="c" style="stroke-width:7" d="M180 205L200 215M210 215L240 205M255 225L300 230M190 170L220 165M130 280H145M90 185h8"/>
<path fill="#f0f" d="M140 198h6v16h-6zM150 206h10v5h-10z"/>
<rect x="264" y="170" width="7" height="8" fill="#00f"/><rect x="84" y="100" width="6" height="6" fill="#f00"/><rect x="282" y="295" width="5" height="5" fill="#f00"/>
</g>
</svg>
</body></html>
